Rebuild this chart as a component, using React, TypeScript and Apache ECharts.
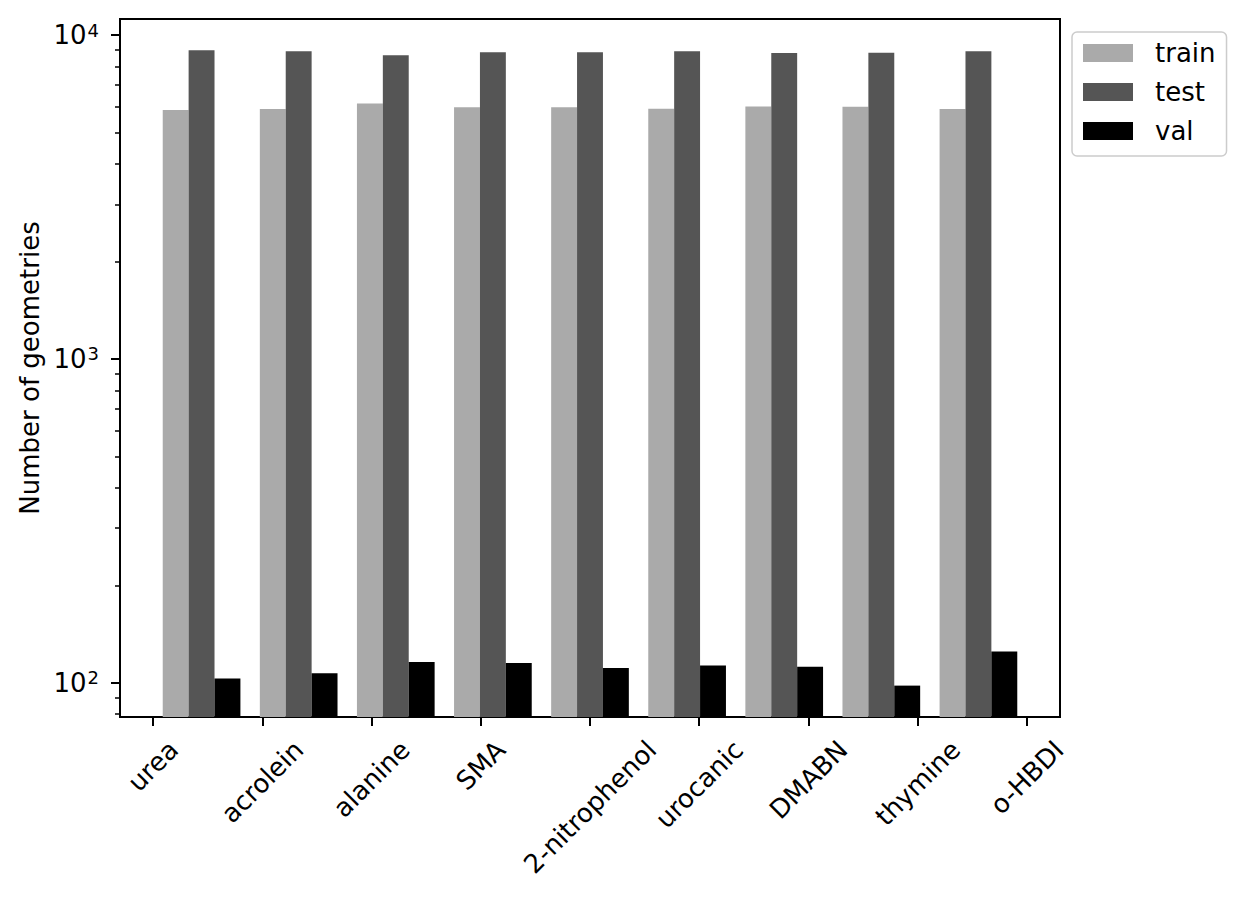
import React, { useEffect, useRef } from "react";
import * as echarts from "echarts";

const categories = ["urea", "acrolein", "alanine", "SMA", "2-nitrophenol", "urocanic", "DMABN", "thymine", "o-HBDI"];
const trainValues = [5870, 5910, 6150, 5980, 5980, 5920, 6010, 6000, 5910];
const testValues = [8970, 8910, 8660, 8840, 8840, 8910, 8800, 8820, 8910];
const valValues = [103, 107, 116, 115, 111, 113, 112, 98, 125];
const xTickPositions = [-0.5, 0.625, 1.75, 2.875, 4, 5.125, 6.25, 7.375, 8.5];
const yMajorTicks = [100, 1000, 10000];
const yMinorTicks = [80, 90, 200, 300, 400, 500, 600, 700, 800, 900, 2000, 3000, 4000, 5000, 6000, 7000, 8000, 9000];

const FONT = "DejaVu Sans";
const FS = 26;
const BAR_W = 0.8 / 3;

export default function App() {
  const ref = useRef<HTMLDivElement>(null);
  useEffect(() => {
    if (!ref.current) return;
    const chart = echarts.init(ref.current, null, { renderer: "svg" });
    const seriesDefs = [
      { name: "train", data: trainValues, color: "#aaaaaa", off: -BAR_W },
      { name: "test", data: testValues, color: "#555555", off: 0 },
      { name: "val", data: valValues, color: "#000000", off: BAR_W },
    ];
    const yMin = 78.4;
    const yMax = 11205;
    const option: any = {
      animation: false,
      backgroundColor: "#ffffff",
      grid: { left: 120, right: 187, top: 19, bottom: 181, show: true, borderColor: "#000", borderWidth: 2, backgroundColor: "transparent" },
      legend: {
        orient: "vertical",
        left: 1072,
        top: 32,
        itemWidth: 50,
        itemHeight: 18,
        itemGap: 13,
        padding: [8, 11, 12, 11],
        borderColor: "#cccccc",
        borderWidth: 1.5,
        borderRadius: 5,
        backgroundColor: "rgba(255,255,255,0.8)",
        icon: "rect",
        textStyle: { fontSize: FS, color: "#000", fontFamily: FONT, padding: [0, 0, 0, 17] },
        data: seriesDefs.map((s) => s.name),
      },
      xAxis: {
        type: "value",
        min: -0.84,
        max: 8.84,
        splitLine: { show: false },
        axisLine: { onZero: false, lineStyle: { color: "#000", width: 2 } },
        axisTick: { show: true, length: 9, lineStyle: { color: "#000", width: 2 }, customValues: xTickPositions },
        axisLabel: { show: false, customValues: xTickPositions },
      },
      yAxis: [
        {
          type: "log",
          logBase: 10,
          min: yMin,
          max: yMax,
          position: "left",
          splitLine: { show: false },
          axisLine: { show: true, onZero: false, lineStyle: { color: "#000", width: 2 } },
          axisTick: { show: true, length: 9, lineStyle: { color: "#000", width: 2 }, customValues: yMajorTicks },
          axisLabel: {
            margin: 21,
            customValues: yMajorTicks,
            formatter: (v: number) => `{b|10}{s|${Math.round(Math.log10(v))}}`,
            rich: {
              b: { fontSize: FS, fontFamily: FONT, color: "#000" },
              s: { fontSize: 18, fontFamily: FONT, color: "#000", verticalAlign: "top", padding: [0, 0, 10, 1] },
            },
          },
          name: "Number of geometries",
          nameLocation: "middle",
          nameRotate: 90,
          nameGap: 75,
          nameTextStyle: { fontSize: FS, fontFamily: FONT, color: "#000" },
        },
        {
          type: "log",
          logBase: 10,
          min: yMin,
          max: yMax,
          position: "left",
          offset: 0,
          splitLine: { show: false },
          axisLine: { show: false, onZero: false },
          axisTick: { show: true, length: 5, lineStyle: { color: "#000", width: 1.5 }, customValues: yMinorTicks },
          axisLabel: { show: false, customValues: yMinorTicks },
        },
      ],
      series: seriesDefs.map((s) => ({
        type: "custom",
        name: s.name,
        itemStyle: { color: s.color },
        encode: { x: 0, y: 1 },
        data: s.data.map((v, i) => [i, v]),
        renderItem: (params: any, api: any) => {
          const c = api.value(0) + s.off;
          const v = api.value(1);
          const p1 = api.coord([c - BAR_W / 2, v]);
          const p2 = api.coord([c + BAR_W / 2, v]);
          const cs = params.coordSys;
          const bottom = cs.y + cs.height;
          return {
            type: "rect",
            shape: { x: p1[0], y: p1[1], width: p2[0] - p1[0], height: bottom - p1[1] },
            style: { fill: s.color },
          };
        },
      })),
    };
    chart.setOption(option);

    // rotated x tick labels, centred like matplotlib's rotation=45
    const canvas = document.createElement("canvas");
    const ctx = canvas.getContext("2d")!;
    ctx.font = `${FS}px "${FONT}"`;
    const axisY = chart.convertToPixel({ yAxisIndex: 0 }, yMin) as number;
    const h = FS * 1.164;
    const graphics = categories.map((label, i) => {
      const px = chart.convertToPixel({ xAxisIndex: 0 }, xTickPositions[i]) as number;
      const w = ctx.measureText(label).width;
      const cy = axisY + 17.5 + (w + h) / (2 * Math.SQRT2);
      return {
        type: "text",
        x: px,
        y: cy,
        rotation: Math.PI / 4,
        style: {
          text: label,
          fontSize: FS,
          fontFamily: FONT,
          fill: "#000",
          align: "center",
          verticalAlign: "middle",
          textAlign: "center",
          textVerticalAlign: "middle",
        },
      };
    });
    chart.setOption({ graphic: graphics });
    return () => chart.dispose();
  }, []);
  return <div ref={ref} style={{ position: "absolute", left: 0, top: 0, width: 1247, height: 898 }} />;
}
